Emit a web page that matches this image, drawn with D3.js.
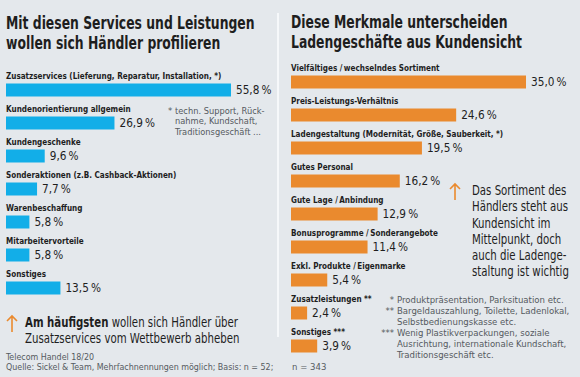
<!DOCTYPE html>
<html><head><meta charset="utf-8">
<script src="https://cdn.jsdelivr.net/npm/d3@7/dist/d3.min.js"></script>
<style>
html,body{margin:0;padding:0;background:#e4e8ec;}
svg{display:block;}
text{font-family:"DejaVu Sans Condensed","DejaVu Sans",sans-serif;}
</style></head>
<body><svg id="c" width="580" height="377"></svg>
<script>
const leftTitle = ["Mit diesen Services und Leistungen", "wollen sich Händler profilieren"];
const leftCategories = ["Zusatzservices (Lieferung, Reparatur, Installation, *)", "Kundenorientierung allgemein", "Kundengeschenke", "Sonderaktionen (z.B. Cashback-Aktionen)", "Warenbeschaffung", "Mitarbeitervorteile", "Sonstiges"];
const leftValues = [55.8, 26.9, 9.6, 7.7, 5.8, 5.8, 13.5];
const leftNote = ["techn. Support, Rück-", "nahme, Kundschaft,", "Traditionsgeschäft ..."];
const leftCallout = [["Am häufigsten", " wollen sich Händler über"], ["", "Zusatzservices vom Wettbewerb abheben"]];
const leftSource = ["Telecom Handel 18/20", "Quelle: Sickel & Team, Mehrfachnennungen möglich; Basis: n = 52;"];

const rightTitle = ["Diese Merkmale unterscheiden", "Ladengeschäfte aus Kundensicht"];
const rightCategories = ["Vielfältiges /\u2009wechselndes Sortiment", "Preis-Leistungs-Verhältnis", "Ladengestaltung (Modernität, Größe, Sauberkeit, *)", "Gutes Personal", "Gute Lage /\u2009Anbindung", "Bonusprogramme /\u2009Sonderangebote", "Exkl. Produkte /\u2009Eigenmarke", "Zusatzleistungen **", "Sonstiges ***"];
const rightValues = [35.0, 24.6, 19.5, 16.2, 12.9, 11.4, 5.4, 2.4, 3.9];
const rightCallout = ["Das Sortiment des", "Händlers steht aus", "Kundensicht im", "Mittelpunkt, doch", "auch die Ladenge-", "staltung ist wichtig"];
const rightNoteMarks = ["*", "**", "", "***", "", ""];
const rightNote = ["Produktpräsentation, Parksituation etc.", "Bargeldauszahlung, Toilette, Ladenlokal,", "Selbstbedienungskasse etc.", "Wenig Plastikverpackungen, soziale", "Ausrichtung, internationale Kundschaft,", "Traditionsgeschäft etc."];
const rightSource = "n = 343";

const BLUE = "#12aee8", ORANGE = "#ea8a2e", INK = "#1e1e1e", GREY = "#555a60";
const fmt = v => d3.format(".1f")(v).replace(".", ",") + "\u2009%";

// horizontal condensing of a text selection around its own x anchor
function squeeze(sel, k) {
  sel.attr("transform", function () {
    const x = +d3.select(this).attr("x");
    return `translate(${x * (1 - k)},0) scale(${k},1)`;
  });
  return sel;
}

const svg = d3.select("#c");
svg.append("rect").attr("width", 580).attr("height", 377).attr("fill", "#e4e8ec");
svg.append("line").attr("x1", 278).attr("x2", 278).attr("y1", 13).attr("y2", 337)
  .attr("stroke", "#f6f8fa").attr("stroke-width", 2);

function panel(opts) {
  const g = svg.append("g");
  const x = d3.scaleLinear().domain([0, opts.maxV]).range([0, opts.maxW]);
  const y = d3.scalePoint().domain(opts.cats).range(opts.yRange);
  const bh = 13;
  squeeze(g.selectAll("text.title").data(opts.title).join("text").attr("class", "title")
    .attr("x", opts.x0).attr("y", (d, i) => opts.titleY + i * 20)
    .attr("font-size", 17).attr("font-weight", "bold").attr("fill", INK).text(d => d), 0.81);
  const rows = g.selectAll("g.row").data(opts.cats.map((c, i) => ({c, v: opts.vals[i]}))).join("g").attr("class", "row");
  squeeze(rows.append("text").attr("x", opts.x0).attr("y", d => y(d.c) - 11)
    .attr("font-size", 9.5).attr("font-weight", "bold").attr("fill", INK).text(d => d.c), 0.85);
  rows.append("rect").attr("x", opts.x0).attr("y", d => y(d.c) - bh / 2)
    .attr("width", d => x(d.v)).attr("height", bh).attr("fill", opts.color);
  squeeze(rows.append("text").attr("x", d => opts.x0 + x(d.v) + 5).attr("y", d => y(d.c) + 4.5)
    .attr("font-size", 13).attr("fill", INK).text(d => fmt(d.v)), 0.9);
}

panel({x0: 6, title: leftTitle, titleY: 29, cats: leftCategories, vals: leftValues,
  maxV: 55.8, maxW: 225, yRange: [90, 288], color: BLUE});
panel({x0: 291, title: rightTitle, titleY: 28, cats: rightCategories, vals: rightValues,
  maxV: 35, maxW: 235, yRange: [82, 346], color: ORANGE});

function arrow(cx, y1, y2) {
  svg.append("path").attr("d", `M${cx},${y2}L${cx},${y1}M${cx-5},${y1+5}L${cx},${y1}L${cx+5},${y1+5}`)
    .attr("fill", "none").attr("stroke", ORANGE).attr("stroke-width", 1.6);
}

// left footnote
svg.append("text").attr("x", 168).attr("y", 114).attr("font-size", 9.5).attr("fill", GREY).text("*");
squeeze(svg.selectAll("text.ln").data(leftNote).join("text").attr("class", "ln")
  .attr("x", 175).attr("y", (d, i) => 114 + i * 10.5).attr("font-size", 9.5).attr("fill", GREY).text(d => d), 0.97);

// left callout
arrow(12, 316, 332);
const lc = svg.selectAll("text.lc").data(leftCallout).join("text").attr("class", "lc")
  .attr("x", 25).attr("y", (d, i) => 327 + i * 16).attr("font-size", 13.5).attr("fill", INK);
lc.append("tspan").attr("font-weight", "bold").text(d => d[0]);
lc.append("tspan").text(d => d[1]);
squeeze(lc, 0.84);

// left source
squeeze(svg.selectAll("text.src").data(leftSource).join("text").attr("class", "src")
  .attr("x", 6).attr("y", (d, i) => 360 + i * 10).attr("font-size", 9.5).attr("fill", GREY).text(d => d), 0.93);

// right callout
arrow(455, 184, 200);
squeeze(svg.selectAll("text.rc").data(rightCallout).join("text").attr("class", "rc")
  .attr("x", 472).attr("y", (d, i) => 195 + i * 16.3).attr("font-size", 13.5).attr("fill", INK).text(d => d), 0.84);

// right footnotes
svg.selectAll("text.rm").data(rightNoteMarks).join("text").attr("class", "rm")
  .attr("x", 394).attr("y", (d, i) => 303 + i * 11).attr("text-anchor", "end")
  .attr("font-size", 9.5).attr("fill", GREY).text(d => d);
svg.selectAll("text.rn").data(rightNote).join("text").attr("class", "rn")
  .attr("x", 397).attr("y", (d, i) => 303 + i * 11).attr("font-size", 9.5).attr("fill", GREY).text(d => d);
svg.append("text").attr("x", 292).attr("y", 370).attr("font-size", 9.5).attr("fill", GREY).text(rightSource);
</script></body></html>
